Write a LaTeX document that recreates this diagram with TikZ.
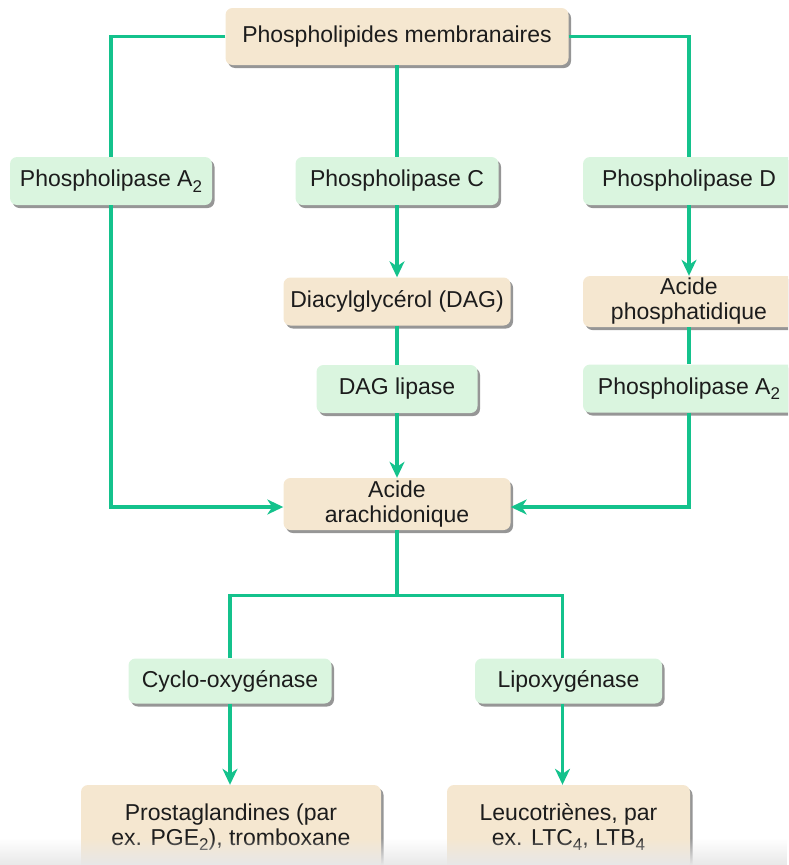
\documentclass[tikz,border=0pt]{standalone}
\usepackage{fontspec}
\setmainfont{Liberation Sans}
\usetikzlibrary{arrows.meta,shadows,fadings}

\definecolor{pathgreen}{HTML}{14C28C}
\definecolor{enzfill}{HTML}{DAF5DF}
\definecolor{prodfill}{HTML}{F5E7D0}
\definecolor{inktext}{HTML}{1C1C1C}

% lowered index, larger than \textsubscript
\newcommand{\lowidx}[1]{\raisebox{-0.45ex}{\fontsize{17}{17}\selectfont #1}}

\begin{document}
\begin{tikzpicture}[x=1pt, y=-1pt,
    box/.style={rounded corners=7pt, align=center, text=inktext, inner sep=0pt,
      font=\fontsize{23}{25}\selectfont,
      drop shadow={shadow xshift=2.5pt, shadow yshift=-3pt, fill=black!55, opacity=.75}},
    enzyme/.style={box, fill=enzfill, minimum height=48pt},
    product/.style={box, fill=prodfill},
    link/.style={draw=pathgreen, line width=3.3pt},
    flow/.style={link, -{Stealth[length=16pt, width=15pt, inset=5pt]}}]
    \clip (0,0) rectangle (788,865);
    % membrane source
    \node [product, minimum width=343pt, minimum height=57pt] (mem) at (397,36.5) {Phospholipides membranaires};
    % first enzymes
    \node [enzyme, minimum width=202pt] (plaL) at (111,181) {Phospholipase A\lowidx{2}};
    \node [enzyme, minimum width=203pt] (plc)  at (397,181) {Phospholipase C};
    \node [enzyme, minimum width=212pt] (pld)  at (689,181) {Phospholipase D};
    % intermediates
    \node [product, minimum width=227pt, minimum height=48pt] (dag) at (397,301.5) {Diacylglycérol (DAG)};
    \node [product, minimum width=212pt, minimum height=51pt] (apa) at (689,301.5) {Acide\\phosphatidique};
    \node [enzyme, minimum width=161pt] (dagl) at (397,389) {DAG lipase};
    \node [enzyme, minimum width=212pt] (plaR) at (689,388.5) {Phospholipase A\lowidx{2}};
    % arachidonic acid
    \node [product, minimum width=227pt, minimum height=52pt] (ara) at (397,504) {Acide\\arachidonique};
    % oxygenases
    \node [enzyme, minimum width=203pt, minimum height=45pt] (cox) at (230,681) {Cyclo-oxygénase};
    \node [enzyme, minimum width=187pt, minimum height=45pt] (lox) at (568.5,681) {Lipoxygénase};
    % end products
    \node [product, minimum width=300pt, minimum height=84pt] (pg) at (231,827) {Prostaglandines (par\\ex. PGE\lowidx{2}), tromboxane};
    \node [product, minimum width=243pt, minimum height=84pt] (lt) at (568.5,827) {Leucotriènes, par\\ex. LTC\lowidx{4}, LTB\lowidx{4}};

    % top split
    \draw [link] (mem.west) -| (plaL.north);
    \draw [link] (mem.east) -| (pld.north);
    \draw [link] (mem.south) -- (plc.north);
    % middle branch
    \draw [flow] (plc.south) -- (dag.north);
    \draw [link] (dag.south) -- (dagl.north);
    \draw [flow] (dagl.south) -- (ara.north);
    % right branch
    \draw [flow] (pld.south) -- (apa.north);
    \draw [link] (apa.south) -- (plaR.north);
    \draw [flow] (plaR.south) |- ([yshift=-3pt]ara.east);
    % left branch
    \draw [flow] (plaL.south) |- ([yshift=-3pt]ara.west);
    % oxygenase split
    \draw [link] (ara.south) -- ++(0,65) coordinate (split);
    \draw [link] (cox.north) |- (split) -| ([xshift=-6pt]lox.north);
    \draw [flow] (cox.south) -- (cox.south |- pg.north);
    \draw [flow] ([xshift=-6pt]lox.south) -- ([xshift=-6pt]lt.north);

    % faint band along the bottom edge
    \fill [black!9, path fading=north] (0,838) rectangle (788,865);
\end{tikzpicture}
\end{document}
